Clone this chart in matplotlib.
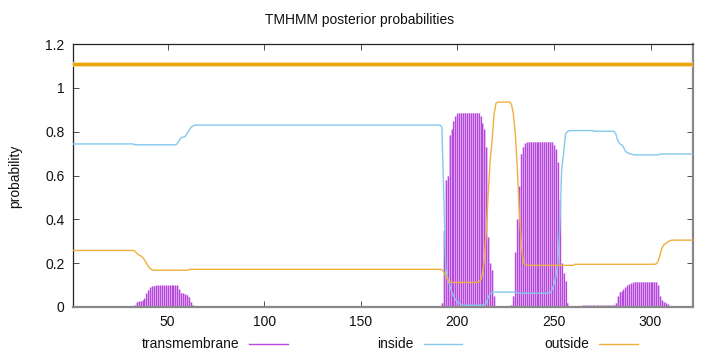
import matplotlib
matplotlib.use("Agg")
import matplotlib.pyplot as plt
from matplotlib.lines import Line2D
import numpy as np

plt.rcParams['font.family'] = ['Liberation Sans', 'DejaVu Sans']

# residue positions
residues = list(range(1, 323))

# posterior probability: inside
inside = ([0.744] * 32 + [0.740] * 22 +
          [0.745, 0.76, 0.773, 0.775, 0.778, 0.79, 0.805, 0.818, 0.826, 0.829] +
          [0.830] * 127 +
          [0.82, 0.5, 0.17, 0.13, 0.10, 0.07, 0.05, 0.035, 0.022, 0.015, 0.01] +
          [0.008] * 11 +
          [0.01, 0.02, 0.045, 0.062, 0.066] +
          [0.068] * 12 + [0.063] * 17 +
          [0.065, 0.08, 0.1, 0.14, 0.2, 0.35, 0.63, 0.7, 0.79, 0.80, 0.805] +
          [0.805] * 12 + [0.802] * 11 +
          [0.79, 0.76, 0.745, 0.74, 0.73, 0.71, 0.705, 0.70, 0.698, 0.695] +
          [0.694] * 13 + [0.698] * 18)

# posterior probability: outside
outside = ([0.258] * 32 +
           [0.255, 0.245, 0.238, 0.233, 0.228, 0.215, 0.2, 0.185, 0.175, 0.17] +
           [0.168] * 18 + [0.17] + [0.172] * 130 +
           [0.17, 0.16, 0.14, 0.125, 0.115] +
           [0.112] * 14 +
           [0.115, 0.12, 0.15, 0.22, 0.35, 0.52, 0.67, 0.76, 0.88, 0.93] +
           [0.935] * 7 +
           [0.925, 0.88, 0.79, 0.64, 0.45, 0.3, 0.21, 0.195] +
           [0.19] * 25 + [0.195] * 42 +
           [0.197, 0.21, 0.24, 0.27, 0.285, 0.29, 0.298, 0.302] +
           [0.305] * 12)

# posterior probability: transmembrane
transmembrane = ([0.0] * 32 +
                 [0.01, 0.024, 0.026, 0.028, 0.032, 0.04, 0.063, 0.078, 0.09, 0.096, 0.098] +
                 [0.099] * 12 +
                 [0.08, 0.065, 0.063, 0.06, 0.055, 0.047, 0.024, 0.01] +
                 [0.0] * 128 +
                 [0.02, 0.35, 0.58, 0.60, 0.785, 0.81, 0.85, 0.87, 0.884] +
                 [0.887] * 11 +
                 [0.87, 0.84, 0.81, 0.73, 0.32, 0.2, 0.17, 0.05] +
                 [0.0] * 8 +
                 [0.01, 0.05, 0.25, 0.4, 0.55, 0.70, 0.73, 0.747, 0.752] +
                 [0.755] * 13 +
                 [0.74, 0.72, 0.66, 0.49, 0.2, 0.155, 0.12, 0.02] +
                 [0.0] * 7 + [0.008] * 16 +
                 [0.01, 0.02, 0.05, 0.07, 0.072, 0.08, 0.09, 0.1, 0.104, 0.108, 0.112] +
                 [0.116] * 12 +
                 [0.1, 0.05, 0.03, 0.025, 0.02, 0.015, 0.005] +
                 [0.0] * 12)

topology_level = 1.11
yticks = [0, 0.2, 0.4, 0.6, 0.8, 1.0, 1.2]
ytick_labels = ['0', '0.2', '0.4', '0.6', '0.8', '1', '1.2']
xticks = [50, 100, 150, 200, 250, 300]

TM_COL = '#b848dc'
TM_FILL = '#e2bdf2'
IN_COL = '#86c8ec'
OUT_COL = '#f0b03c'
TOP_COL = '#eba300'

fig = plt.figure(figsize=(7.2, 3.52), dpi=100)
ax = fig.add_axes([73 / 720, 45 / 352, 620 / 720, 263 / 352])

x = np.array(residues)
tm = np.array(transmembrane)
ax.fill_between(x, 0, tm, step='mid', color=TM_FILL, lw=0, zorder=1)
mask = tm > 0
ax.vlines(x[mask], 0, tm[mask], color=TM_COL, lw=0.9, zorder=2)
ax.plot(x, inside, color=IN_COL, lw=1.0, zorder=3)
ax.plot(x, outside, color=OUT_COL, lw=1.0, zorder=4)
ax.axhline(topology_level, color='#f6d890', lw=3.4, zorder=5)
ax.axhline(topology_level, color=TOP_COL, lw=2.0, zorder=6)

ax.set_xlim(1, 322)
ax.set_ylim(0, 1.2)
ax.set_xticks(xticks)
ax.set_yticks(yticks)
ax.set_yticklabels(ytick_labels)
ax.tick_params(direction='in', top=True, right=True, length=4, width=0.6,
               labelsize=10, colors='#333333', labelcolor='#111111', pad=6)

for s in ['left', 'top']:
    ax.spines[s].set_color('#222222')
    ax.spines[s].set_linewidth(0.9)
for s in ['bottom', 'right']:
    ax.spines[s].set_color('#888888')
    ax.spines[s].set_linewidth(1.6)

fig.text(0.5, 1 - 20 / 352, 'TMHMM posterior probabilities', ha='center',
         va='center', fontsize=10, color='#111111')
fig.text(15 / 720, 1 - 176 / 352, 'probability', rotation=90, ha='center',
         va='center', fontsize=10, color='#111111')

# legend below plot
ly = 1 - 344 / 352
entries = [('transmembrane', 239, 249, 288, TM_COL),
           ('inside', 414, 424, 462, IN_COL),
           ('outside', 589, 599, 638, OUT_COL)]
for label, tx, l0, l1, col in entries:
    fig.text(tx / 720, ly, label, ha='right', va='center', fontsize=10,
             color='#111111')
    fig.add_artist(Line2D([l0 / 720, l1 / 720], [ly, ly], color=col, lw=1.0,
                          transform=fig.transFigure))

fig.savefig('out.png', dpi=100)
